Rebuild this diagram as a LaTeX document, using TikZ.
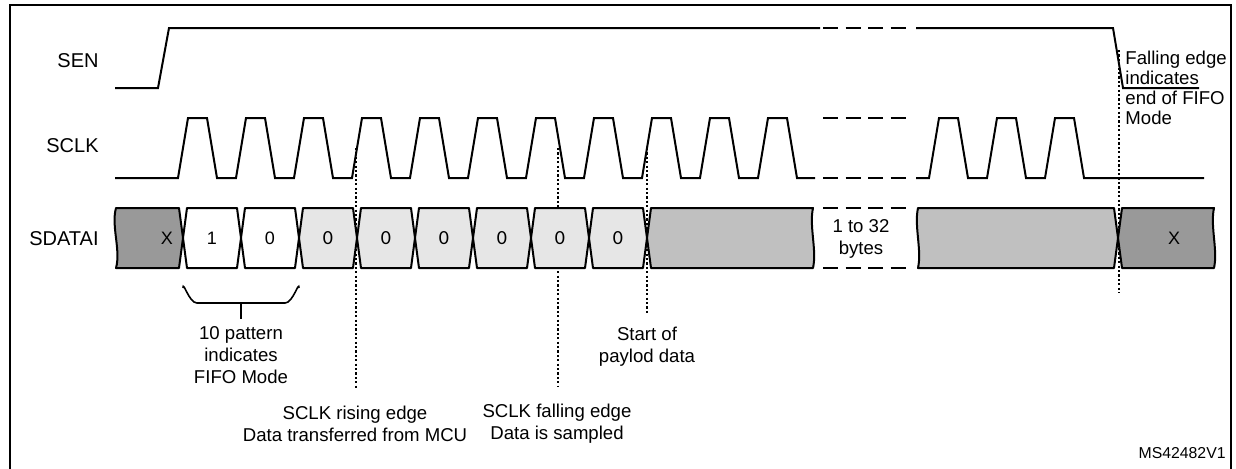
\documentclass[tikz,border=0pt]{standalone}
\usepackage{fontspec}
\setmainfont{Liberation Sans}
\newfontfamily\cellfont{Carlito}

\definecolor{xgray}{HTML}{999999}
\definecolor{hdrgray}{HTML}{E6E6E6}
\definecolor{paygray}{HTML}{C0C0C0}

\tikzset{
    sig/.style={line width=1pt},
    gapline/.style={line width=1pt, dash pattern=on 7.5pt off 3.75pt},
    marker/.style={line width=1.3pt, dash pattern=on 1.1pt off 1.1pt},
    cellbox/.style={draw, line width=1pt, line join=round},
    signame/.style={anchor=east, inner sep=0pt, font=\fontsize{10}{12}\selectfont},
    bitlabel/.style={inner sep=0pt, font=\fontsize{9}{11}\selectfont},
    graybit/.style={inner sep=0pt, font=\cellfont\fontsize{10}{12}\selectfont},
    note/.style={align=center, inner sep=0pt, font=\fontsize{9.3}{11}\selectfont}
}

\begin{document}
\begin{tikzpicture}[x=0.5pt, y=-0.5pt]

    % --- Canvas ---
    % one pixel of the figure is one unit, y runs downwards
    \useasboundingbox (0,0) rectangle (1236,468);
    \draw[line width=1.2pt] (10,470) -- (10,5) -- (1231,5) -- (1231,470);

    % --- Signal names ---
    \node[signame] (sen)  at (99,61)  {SEN};
    \node[signame] (sclk) at (99,146) {SCLK};
    \node[signame] (sdat) at (99,239) {SDATAI};

    % --- Marker coordinates ---
    \coordinate (risetop) at (356,148);  % SCLK rising edge
    \coordinate (risebot) at (356,388);
    \coordinate (falltop) at (558,148);  % SCLK falling edge
    \coordinate (fallbot) at (558,386);
    \coordinate (paytop)  at (647,148);  % start of payload
    \coordinate (paybot)  at (647,315);
    \coordinate (endtop)  at (1119,50);  % SEN falling edge
    \coordinate (endbot)  at (1119,293);

    % --- Dotted markers ---
    \draw[marker] (risetop) -- (risebot);
    \draw[marker] (falltop) -- (fallbot);
    \draw[marker] (paytop) -- (paybot);
    \draw[marker] (endtop) -- (endbot);

    % --- SEN ---
    \draw[sig] (115,88) -- (158,88) -- (169,28) -- (820,28);
    \draw[gapline] (823,28) -- (906,28);
    \draw[sig] (916,28) -- (1113,28) -- (1123,88) -- (1199,88);

    % --- SCLK ---
    \draw[sig] (115,178) \foreach \k in {0,...,10} {
        -- ({178+58*\k},178) -- ({188+58*\k},118) -- ({207+58*\k},118) -- ({217+58*\k},178)
    } -- (815,178);
    \draw[gapline] (823,118) -- (906,118);
    \draw[gapline] (823,178) -- (906,178);
    \draw[sig] (916,178) \foreach \r in {934,992,1050} {
        -- ({\r-5},178) -- ({\r+5},118) -- ({\r+24},118) -- ({\r+34},178)
    } -- (1204,178);

    % --- SDATAI ---
    % don't care before the command
    \draw[cellbox, fill=xgray] (116,208) -- (179,208) -- (183,238) -- (179,268) -- (116,268)
        .. controls (121,250) and (111,226) .. (116,208) -- cycle;
    \node[bitlabel] (xin) at (167,238) {X};

    % 10 pattern
    \foreach \i/\l/\v in {1/183/1, 2/241/0} {
        \draw[cellbox, fill=white] (\l+4,208) -- (\l+54,208) -- (\l+58,238) -- (\l+54,268) -- (\l+4,268) -- (\l,238) -- cycle;
        \node[bitlabel] (bit\i) at (\l+29,238) {\v};
    }

    % zero bits
    \foreach \i/\l in {3/299, 4/357, 5/415, 6/473, 7/531, 8/589} {
        \draw[cellbox, fill=hdrgray] (\l+4,208) -- (\l+54,208) -- (\l+58,238) -- (\l+54,268) -- (\l+4,268) -- (\l,238) -- cycle;
        \node[graybit] (bit\i) at (\l+29,238) {0};
    }

    % payload
    \draw[cellbox, fill=paygray] (651,208) -- (813,208) .. controls (809,226) and (817,250) .. (813,268)
        -- (651,268) -- (647,238) -- cycle;
    \draw[gapline] (823,208) -- (906,208);
    \draw[gapline] (823,268) -- (906,268);
    \node[note] (bytes) at (861,239) {1 to 32\\bytes};
    \draw[cellbox, fill=paygray] (918,268) .. controls (922,250) and (914,226) .. (918,208)
        -- (1114,208) -- (1118,238) -- (1114,268) -- cycle;

    % don't care after the command
    \draw[cellbox, fill=xgray] (1122,208) -- (1214,208) .. controls (1210,226) and (1218,250) .. (1214,268)
        -- (1122,268) -- (1118,238) -- cycle;
    \node[bitlabel] (xout) at (1174,238) {X};

    % --- Brace under the 10 pattern ---
    \coordinate (stem) at (241,319);
    \draw[line width=0.8pt] (183,288) to[out=90,in=180] (197,303) -- (285,303) to[out=0,in=90] (299,288);
    \draw[line width=0.8pt] (241,303) -- (stem);

    % --- Labels ---
    \node[note, anchor=north] (pattern) at (241,326) {10 pattern\\indicates\\FIFO Mode};
    \node[note] (payload) at (647,347) {Start of\\paylod data};
    \node[note] (rising)  at (355,424) {SCLK rising edge\\Data transferred from MCU};
    \node[note] (falling) at (557,424) {SCLK falling edge\\Data is sampled};
    \node[note, align=left, anchor=west, font=\fontsize{9.3}{10}\selectfont] (fifoend) at (1125,88)
        {Falling edge\\indicates\\end of FIFO\\Mode};
    \node[anchor=east, inner sep=0pt, font=\fontsize{7.9}{9}\selectfont] (docid) at (1226,453) {MS42482V1};

\end{tikzpicture}
\end{document}
